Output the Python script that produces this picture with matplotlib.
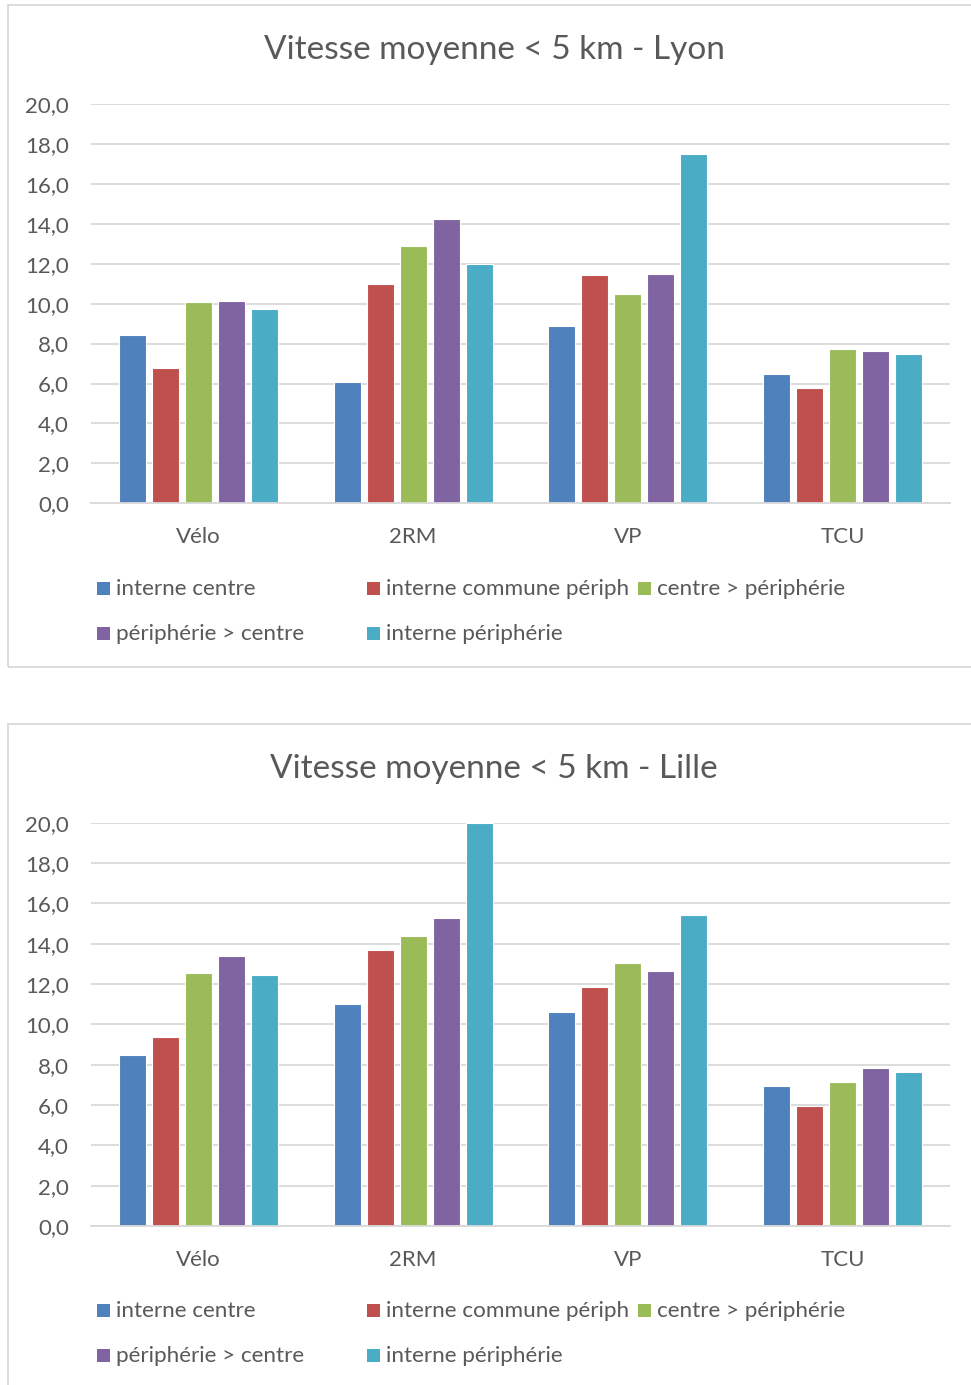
"""Vitesse moyenne des deplacements < 5 km, par mode et par type de liaison (Lyon, Lille)."""
import matplotlib
matplotlib.use("Agg")
import matplotlib.pyplot as plt
from matplotlib.patches import Rectangle

W, H = 971, 1385  # taille de l'image en pixels

categories = ["Vélo", "2RM", "VP", "TCU"]
series = ["interne centre", "interne commune périph", "centre > périphérie",
          "périphérie > centre", "interne périphérie"]
colors = ["#4f81bd", "#c0504d", "#9bbb59", "#8064a2", "#4bacc6"]

# une ligne par serie, une valeur par mode (Vélo, 2RM, VP, TCU)
lyon_vitesse = [
    [8.44, 6.07, 8.87, 6.47],
    [6.78, 10.98, 11.43, 5.79],
    [10.08, 12.89, 10.48, 7.72],
    [10.12, 14.24, 11.50, 7.63],
    [9.73, 11.98, 17.48, 7.48],
]
lille_vitesse = [
    [8.48, 10.99, 10.61, 6.93],
    [9.36, 13.70, 11.87, 5.95],
    [12.53, 14.38, 13.06, 7.14],
    [13.40, 15.26, 12.64, 7.85],
    [12.46, 20.00, 15.40, 7.65],
]
yticks = list(range(0, 21, 2))

GRID = "#d9d9d9"
TXT = "#595959"
FONT = ["Lato", "DejaVu Sans"]
plt.rcParams["font.family"] = FONT


def fx(x):
    return x / W


def fy(y):
    return 1 - y / H


def panel(fig, title, values, box_top, box_bottom, top, bottom, title_y, leg_y):
    # cadre du graphique
    fig.patches.append(Rectangle((fx(8), fy(box_bottom)), fx(990 - 8), (box_bottom - box_top) / H,
                                 transform=fig.transFigure, fill=False,
                                 edgecolor=GRID, lw=1.3))
    fig.text(fx(494), fy(title_y), title, ha="center", va="center",
             fontsize=24, color=TXT)

    ax = fig.add_axes([fx(91), fy(bottom), fx(950 - 91), (bottom - top) / H])
    ax.set_xlim(-0.5, len(categories) - 0.5)
    ax.set_ylim(0, 20)
    pitch = 33 / 215
    width = 27 / 215
    for i, (name, vals) in enumerate(zip(series, values)):
        xs = [k + (i - 2) * pitch for k in range(len(categories))]
        ax.bar(xs, vals, width=width, color=colors[i], edgecolor="white", lw=0.8,
               label=name, zorder=2)
    ax.set_yticks(yticks)
    ax.set_yticklabels([f"{v:.1f}".replace(".", ",") for v in yticks])
    ax.set_xticks(range(len(categories)))
    ax.set_xticklabels(categories)
    ax.tick_params(axis="y", length=0, pad=16, labelsize=16, labelcolor=TXT)
    ax.tick_params(axis="x", length=0, pad=17, labelsize=16, labelcolor=TXT)
    ax.yaxis.grid(True, color=GRID, lw=1.3, zorder=0)
    ax.set_axisbelow(True)
    ax.axhline(0, color=GRID, lw=1.3, zorder=3, clip_on=False)
    for s in ax.spines.values():
        s.set_visible(False)

    # legende a la Excel : 3 colonnes de largeur egale, remplies ligne par ligne
    col_x = [97, 367, 638]
    for i, name in enumerate(series):
        cx = col_x[i % 3]
        cy = leg_y[i // 3]
        fig.patches.append(Rectangle((fx(cx), fy(cy + 7)), 13 / W, 13 / H,
                                     transform=fig.transFigure, color=colors[i], lw=0))
        fig.text(fx(cx + 19), fy(cy + 1), name, ha="left", va="center",
                 fontsize=16.2, color=TXT)
    return ax


fig = plt.figure(figsize=(W / 100, H / 100), dpi=100)
panel(fig, "Vitesse moyenne < 5 km - Lyon", lyon_vitesse,
      5, 667, 104, 503.3, 50, [588, 633])
panel(fig, "Vitesse moyenne < 5 km - Lille", lille_vitesse,
      724, 1400, 822.7, 1226, 769, [1310, 1355])
fig.savefig("out.png", dpi=100)
